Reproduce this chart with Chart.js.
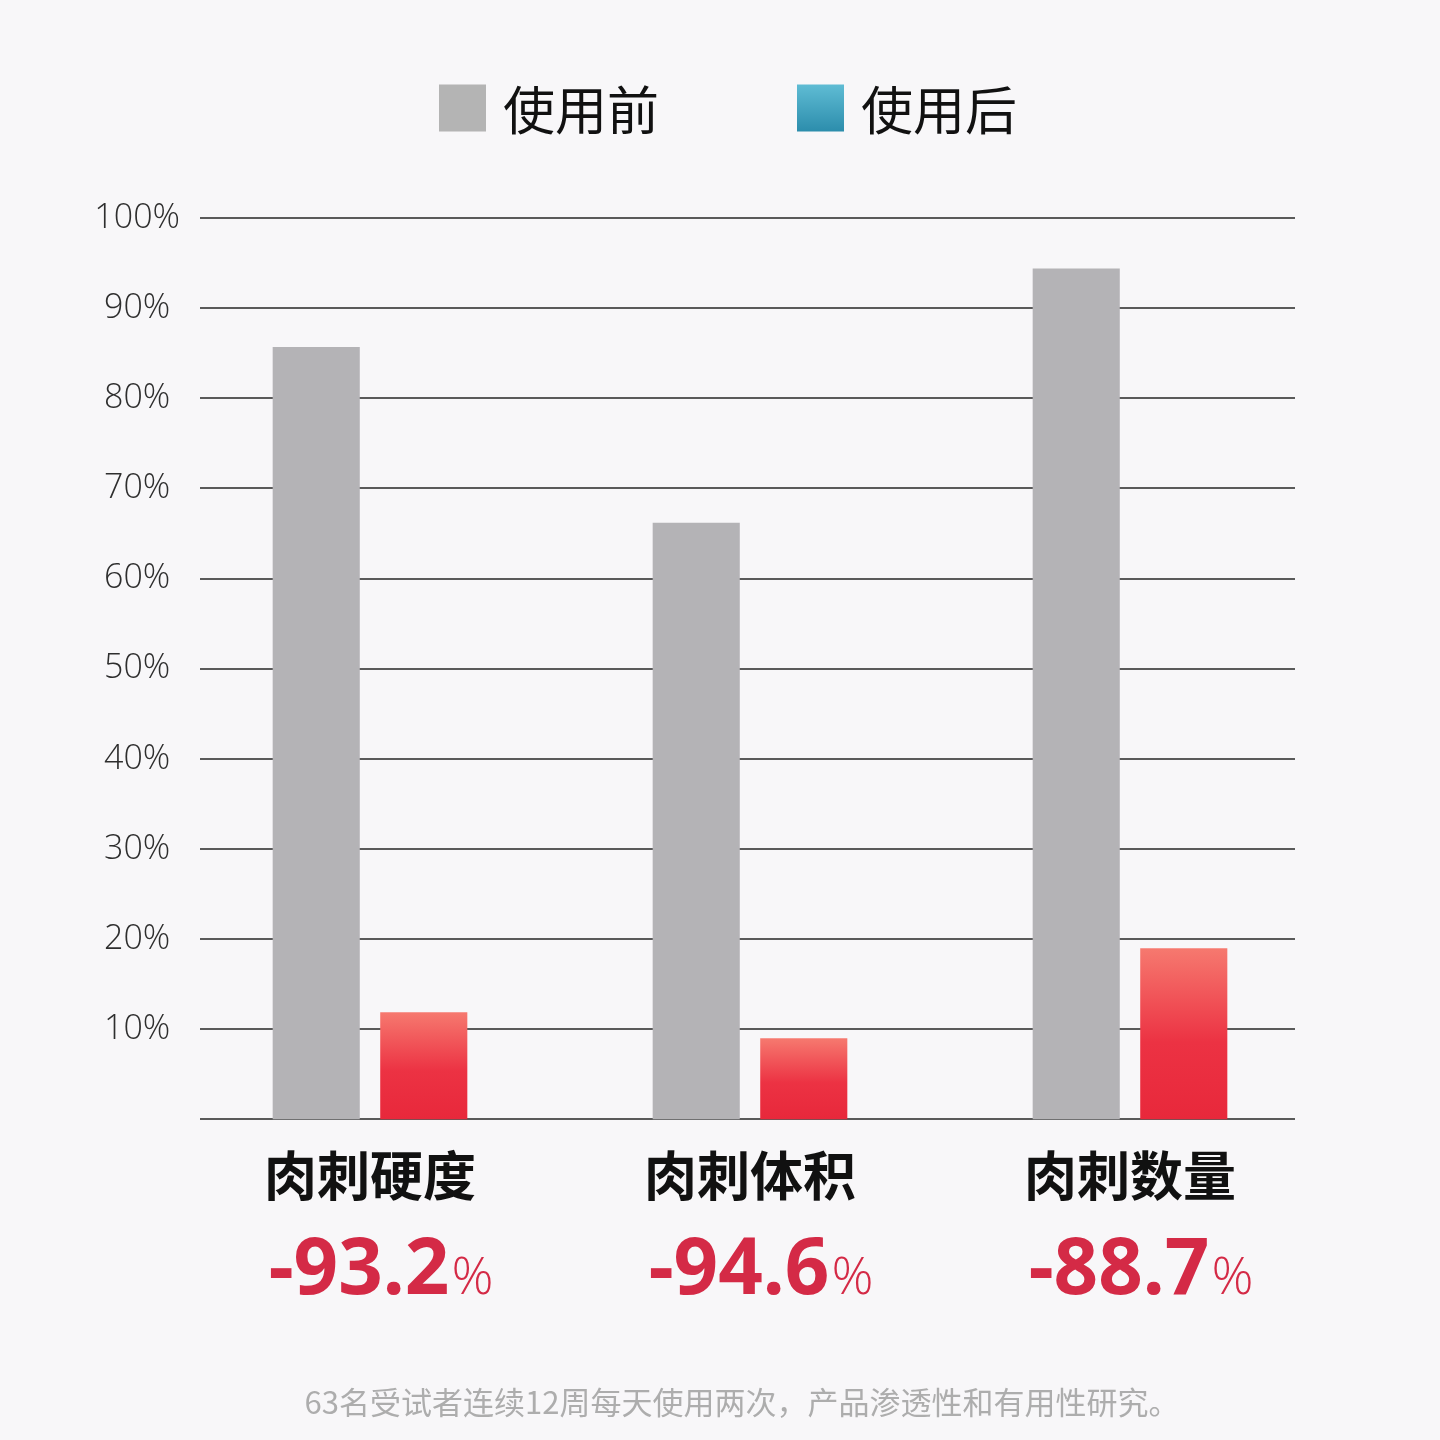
<!DOCTYPE html>
<html>
<head>
<meta charset="utf-8">
<script src="https://cdn.jsdelivr.net/npm/chart.js@4.4.1/dist/chart.umd.min.js"></script>
<style>
  html, body { margin: 0; padding: 0; background: #f8f7f9; }
  #wrap { width: 1440px; height: 1440px; position: relative; }
</style>
</head>
<body>
<div id="wrap"><canvas id="chart"></canvas></div>
<script>
// Data
const categories = ['肉刺硬度', '肉刺体积', '肉刺数量'];
const seriesNames = ['使用前', '使用后'];
const beforeValues = [85.7, 66.2, 94.4];
const afterValues = [11.9, 9.0, 19.0];
const reductions = ['-93.2', '-94.6', '-88.7'];
const footnote = '63名受试者连续12周每天使用两次，产品渗透性和有用性研究。';

const CJK = '"Noto Sans CJK SC", "Noto Sans", sans-serif';

// Red bars fade from coral at the top to deep red at the base
function redFill(ctx) {
    const chart = ctx.chart;
    const { chartArea, scales } = chart;
    if (!chartArea || ctx.type !== 'data') return '#ea2c3e';
    const v = ctx.parsed ? ctx.parsed.y : ctx.raw;
    const top = scales.y.getPixelForValue(v);
    const base = scales.y.getPixelForValue(0);
    const g = chart.ctx.createLinearGradient(0, top, 0, base);
    g.addColorStop(0, '#f6796f');
    g.addColorStop(0.55, '#ec3243');
    g.addColorStop(1, '#e8283b');
    return g;
}

// Horizontal grid lines, a bit shorter than the plot area
const gridPlugin = {
    id: 'grid',
    beforeDatasetsDraw(chart) {
        const { ctx, chartArea, scales } = chart;
        ctx.save();
        ctx.strokeStyle = '#5a5a5a';
        ctx.lineWidth = 2;
        scales.y.ticks.forEach(t => {
            const y = Math.round(scales.y.getPixelForValue(t.value));
            ctx.beginPath();
            ctx.moveTo(chartArea.left + 20, y);
            ctx.lineTo(chartArea.right - 25, y);
            ctx.stroke();
        });
        ctx.restore();
    }
};

// Legend at the top (after-use swatch is blue in the original)
const legendPlugin = {
    id: 'topLegend',
    afterDraw(chart) {
        const { ctx } = chart;
        const box = 47, gap = 17, itemGap = 138;
        ctx.save();
        ctx.font = '400 52px ' + CJK;
        const w = seriesNames.map(n => ctx.measureText(n).width);
        const total = box * 2 + gap * 2 + w[0] + w[1] + itemGap;
        let x = chart.width / 2 + 8 - total / 2;
        const cy = 108;
        seriesNames.forEach((name, i) => {
            if (i === 0) {
                ctx.fillStyle = '#b4b4b4';
            } else {
                const g = ctx.createLinearGradient(0, cy - box / 2, 0, cy + box / 2);
                g.addColorStop(0, '#5fbcd4');
                g.addColorStop(1, '#2c8dac');
                ctx.fillStyle = g;
            }
            ctx.fillRect(x, cy - box / 2, box, box);
            x += box + gap;
            ctx.fillStyle = '#111';
            ctx.textBaseline = 'middle';
            ctx.textAlign = 'left';
            ctx.fillText(name, x, cy + 2);
            x += w[i] + itemGap;
        });
        ctx.restore();
    }
};

// Reduction percentages under each category, plus the footnote
const notesPlugin = {
    id: 'notes',
    afterDraw(chart) {
        const { ctx, scales, chartArea } = chart;
        ctx.save();
        ctx.textBaseline = 'alphabetic';
        ctx.textAlign = 'left';
        reductions.forEach((r, i) => {
            const cx = scales.x.getPixelForValue(i) + 10;
            const y = chartArea.bottom + 175;
            ctx.font = 'bold 78px "Noto Sans", sans-serif';
            const w1 = ctx.measureText(r).width;
            ctx.font = '300 52px "Open Sans", sans-serif';
            const w2 = ctx.measureText('%').width;
            let x = cx - (w1 + w2) / 2;
            ctx.fillStyle = '#d42a46';
            ctx.font = 'bold 78px "Noto Sans", sans-serif';
            ctx.fillText(r, x, y);
            ctx.font = '300 52px "Open Sans", sans-serif';
            ctx.fillText('%', x + w1 + 2, y);
        });
        ctx.font = '400 31px ' + CJK;
        ctx.fillStyle = '#adadad';
        ctx.textAlign = 'center';
        ctx.textBaseline = 'middle';
        ctx.fillText(footnote, 742, 1402);
        ctx.restore();
    }
};

const chart = new Chart(document.getElementById('chart'), {
    type: 'bar',
    data: {
        labels: categories,
        datasets: [
            {
                label: seriesNames[0],
                data: beforeValues,
                backgroundColor: '#b4b3b6',
                categoryPercentage: 0.566,
                barPercentage: 0.81
            },
            {
                label: seriesNames[1],
                data: afterValues,
                backgroundColor: redFill,
                categoryPercentage: 0.566,
                barPercentage: 0.81
            }
        ]
    },
    options: {
        responsive: true,
        maintainAspectRatio: false,
        animation: false,
        layout: { padding: { top: 218, right: 120, bottom: 215, left: 0 } },
        plugins: {
            legend: { display: false },
            tooltip: { enabled: false }
        },
        scales: {
            x: {
                grid: { display: false },
                border: { display: false },
                ticks: {
                    color: '#111',
                    padding: 17,
                    font: { family: CJK, size: 53, weight: 'bold' }
                }
            },
            y: {
                min: 0,
                max: 100,
                grid: { display: false, drawTicks: false },
                border: { display: false },
                afterFit(scale) { scale.width = 180; },
                ticks: {
                    stepSize: 10,
                    crossAlign: 'center',
                    padding: 0,
                    color: '#2e2e2e',
                    font: { family: '"Open Sans", sans-serif', size: 34, weight: '300' },
                    callback: v => v === 0 ? '' : v + '%'
                }
            }
        }
    },
    plugins: [gridPlugin, legendPlugin, notesPlugin]
});
</script>
</body>
</html>
